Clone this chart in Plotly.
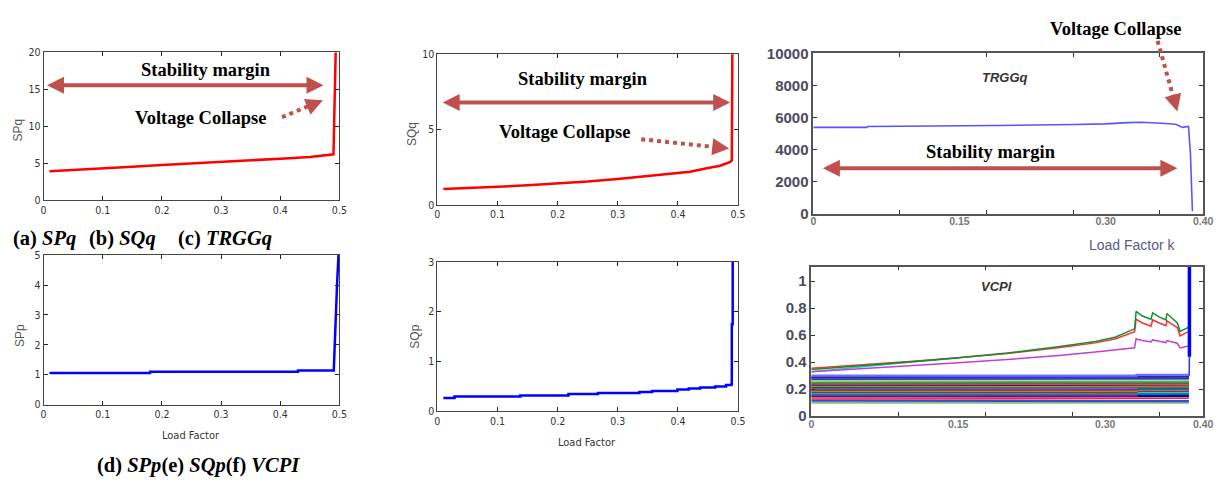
import math
import plotly.graph_objects as go

W, H = 1224, 486

# ---------------- data ----------------
load_ticks = [0, 0.1, 0.2, 0.3, 0.4, 0.5]
load_ticktext = ['0', '0.1', '0.2', '0.3', '0.4', '0.5']
k_label_ticks = [0, 0.15, 0.30, 0.40]
k_label_text = ['0', '0.15', '0.30', '0.40']
k_mark_ticks = [0.0889, 0.1778, 0.2667, 0.3556]

# (a) SPq
spq_x = [0.01, 0.05, 0.10, 0.15, 0.20, 0.25, 0.30, 0.35, 0.40, 0.45, 0.488, 0.490, 0.494]
spq_y = [3.9, 4.1, 4.3, 4.5, 4.75, 4.95, 5.15, 5.4, 5.6, 5.85, 6.1, 6.2, 21.0]

# (b) SQq
sqq_x = [0.01, 0.05, 0.10, 0.15, 0.20, 0.25, 0.30, 0.35, 0.40, 0.42, 0.45, 0.47, 0.487, 0.4895, 0.4905]
sqq_y = [1.05, 1.1, 1.2, 1.3, 1.42, 1.55, 1.72, 1.9, 2.1, 2.2, 2.45, 2.6, 2.85, 2.95, 11.0]

# (c) TRGGq
trg_x = [0, 0.055, 0.056, 0.187, 0.188, 0.268, 0.300, 0.323, 0.336, 0.357, 0.372, 0.379, 0.385, 0.387, 0.389]
trg_y = [5380, 5380, 5440, 5460, 5500, 5560, 5600, 5680, 5700, 5640, 5580, 5380, 5440, 3740, 140]

# (d) SPp
spp_x = [0.01, 0.18, 0.18, 0.43, 0.43, 0.4905, 0.496, 0.499]
spp_y = [1.06, 1.06, 1.10, 1.10, 1.14, 1.14, 4.0, 5.2]

# (e) SQp (stair steps)
sqp_x = [0.01, 0.0285, 0.138, 0.218, 0.267, 0.336, 0.357, 0.399, 0.418, 0.437, 0.462, 0.480, 0.489, 0.4895, 0.491]
sqp_y = [0.27, 0.30, 0.32, 0.35, 0.37, 0.39, 0.41, 0.44, 0.46, 0.48, 0.50, 0.53, 0.55, 1.75, 3.2]

# (f) VCPI – rising bus curves
vc_x = [0, 0.05, 0.10, 0.15, 0.20, 0.25, 0.29, 0.31, 0.330, 0.3316, 0.338, 0.3468, 0.3485,
        0.355, 0.362, 0.363, 0.368, 0.3737, 0.3764, 0.3855]
vc_green = [0.346, 0.372, 0.402, 0.433, 0.468, 0.512, 0.553, 0.585, 0.647, 0.776, 0.742, 0.718, 0.765,
            0.735, 0.713, 0.760, 0.728, 0.690, 0.628, 0.659]
vc_red = [0.355, 0.378, 0.405, 0.433, 0.465, 0.505, 0.543, 0.572, 0.625, 0.718, 0.690, 0.666, 0.713,
          0.690, 0.670, 0.706, 0.682, 0.655, 0.595, 0.628]
vc_mag = [0.330, 0.350, 0.372, 0.395, 0.420, 0.447, 0.475, 0.488, 0.506, 0.572, 0.560, 0.550, 0.565,
          0.555, 0.545, 0.560, 0.550, 0.540, 0.505, 0.520]
vc_cyan_x = [0, 0.05, 0.10, 0.15]
vc_cyan = [0.330, 0.366, 0.399, 0.431]
# flat bus curves (start level, level after x=0.332)
flat_start = [0.100, 0.115, 0.130, 0.140, 0.148, 0.155, 0.162, 0.170, 0.176, 0.182, 0.188, 0.194,
              0.200, 0.206, 0.212, 0.218, 0.224, 0.230, 0.236, 0.242, 0.248, 0.254, 0.260, 0.266,
              0.272, 0.278, 0.284, 0.292, 0.300]
flat_end = [0.100, 0.112, 0.135, 0.145, 0.150, 0.170, 0.165, 0.178, 0.180, 0.190, 0.195, 0.200,
            0.205, 0.212, 0.218, 0.222, 0.228, 0.235, 0.240, 0.246, 0.252, 0.258, 0.264, 0.270,
            0.276, 0.282, 0.288, 0.296, 0.306]
flat_colors = ['#7fbf7f', '#3050d0', '#ff2020', '#ff8080', '#0000cc', '#c000c0', '#008080', '#20a020',
               '#40c0e0', '#800080', '#9a9a00', '#e02050', '#008060', '#2040ff', '#d040d0', '#006000',
               '#c8c820', '#000080', '#ff4040', '#7040a0', '#808000', '#30a030', '#20c0c0', '#e0e040',
               '#a0a0a0', '#202080', '#4040ff', '#203090', '#7070ff']
flat_x = [0, 0.332, 0.332, 0.3855]
spike_x = [0.3858, 0.386]
spike_thin_y = [0.30, 0.44]
spike_thick_y = [0.44, 1.25]

# ---------------- layout helpers ----------------
boxes = {  # left, top, right, bottom in px
    'a': (41, 45, 340, 198),
    'b': (439, 47, 743, 203),
    'c': (819, 46, 1213, 212),
    'd': (41, 255, 340, 410),
    'e': (439, 262, 743, 417),
    'f': (817, 267, 1213, 422),
}


def px(x):
    return x / W


def py(y):
    return 1 - y / H


def dom(key):
    l, t, r, b = boxes[key]
    return [px(l), px(r)], [py(b), py(t)]


NARROW = 'DejaVu Sans Condensed, Liberation Sans Narrow, Arial Narrow, sans-serif'
SERIF = 'Liberation Serif, Times New Roman, serif'
SANS = 'Liberation Sans, Arial, sans-serif'
ARROW = '#c0504d'

fig = go.Figure()


def line(x, y, xa, ya, color, width, shape='linear'):
    fig.add_trace(go.Scatter(x=x, y=y, xaxis=xa, yaxis=ya, mode='lines',
                             line=dict(color=color, width=width, shape=shape),
                             hoverinfo='skip', showlegend=False))


line(spq_x, spq_y, 'x', 'y', '#ff0000', 2.5)
line(sqq_x, sqq_y, 'x2', 'y2', '#ff0000', 2.5)
line(trg_x, trg_y, 'x3', 'y3', '#5555ff', 1.6)
line(spp_x, spp_y, 'x4', 'y4', '#0000ff', 2.5)
line(sqp_x, sqp_y, 'x5', 'y5', '#0000ff', 2.5, shape='hv')
for ys, ye, c in zip(flat_start, flat_end, flat_colors):
    line(flat_x, [ys, ys, ye, ye], 'x6', 'y6', c, 2.2)
line(vc_cyan_x, vc_cyan, 'x6', 'y6', '#30c8c8', 1.5)
line(vc_x, vc_mag, 'x6', 'y6', '#c040d0', 1.5)
line(vc_x, vc_red, 'x6', 'y6', '#ff3030', 1.5)
line(vc_x, vc_green, 'x6', 'y6', '#109030', 1.5)
line(spike_x, spike_thin_y, 'x6', 'y6', '#3030ff', 1.5)
line([spike_x[1], spike_x[1]], spike_thick_y, 'x6', 'y6', '#0000ff', 3.5)
# empty traces to host the label-only overlay axes
fig.add_trace(go.Scatter(x=[], y=[], xaxis='x7', yaxis='y3', showlegend=False))
fig.add_trace(go.Scatter(x=[], y=[], xaxis='x8', yaxis='y6', showlegend=False))

layout = dict(width=W, height=H, margin=dict(l=0, r=0, t=0, b=0),
              paper_bgcolor='white', plot_bgcolor='white', showlegend=False)


def matlab_axes(key, xname, yname, yr, yt):
    xd, yd = dom(key)
    common = dict(showline=True, linecolor='#444', linewidth=1, mirror='ticks', ticks='inside',
                  ticklen=4, tickcolor='#222', showgrid=False, zeroline=False,
                  tickfont=dict(family=NARROW, size=10.5, color='#333'))
    layout['xaxis' + xname] = dict(domain=xd, range=[0, 0.5], anchor='y' + yname,
                                   tickvals=load_ticks, ticktext=load_ticktext, **common)
    layout['yaxis' + yname] = dict(domain=yd, range=yr, anchor='x' + xname,
                                   tickvals=yt, ticktext=[str(v) for v in yt], **common)


matlab_axes('a', '', '', [0, 20], [0, 5, 10, 15, 20])
matlab_axes('b', '2', '2', [0, 10], [0, 5, 10])
matlab_axes('d', '4', '4', [0, 5], [0, 1, 2, 3, 4, 5])
matlab_axes('e', '5', '5', [0, 3], [0, 1, 2, 3])


def excel_axes(key, xname, yname, oname, yr, yt, ytt):
    xd, yd = dom(key)
    common = dict(showline=True, linecolor='#555', linewidth=1.5, mirror='ticks', ticks='inside',
                  ticklen=4, tickcolor='#333', showgrid=False, zeroline=False)
    layout['xaxis' + xname] = dict(domain=xd, range=[0, 0.40], anchor='y' + yname,
                                   tickvals=k_mark_ticks, showticklabels=False, **common)
    layout['yaxis' + yname] = dict(domain=yd, range=yr, anchor='x' + xname, tickvals=yt, ticktext=ytt,
                                   tickfont=dict(family=SANS, size=15, color='#4b4b5e', weight='bold'),
                                   **common)
    layout['xaxis' + oname] = dict(overlaying='x' + xname, anchor='y' + yname, range=[0, 0.40],
                                   tickvals=k_label_ticks, ticktext=k_label_text, ticks='',
                                   showline=False, showgrid=False, zeroline=False, side='bottom',
                                   tickfont=dict(family=SANS, size=10.5, color='#777', weight='bold'))


excel_axes('c', '3', '3', '7', [0, 10000], [0, 2000, 4000, 6000, 8000, 10000],
           ['0', '2000', '4000', '6000', '8000', '10000'])
excel_axes('f', '6', '6', '8', [0, 1.107], [0, 0.2, 0.4, 0.6, 0.8, 1.0],
           ['0', '0.2', '0.4', '0.6', '0.8', '1'])

annotations = []
shapes = []


def text(x, y, s, size, family, color='black', xanchor='center', angle=0):
    annotations.append(dict(x=px(x), y=py(y), xref='paper', yref='paper', text=s, showarrow=False,
                            xanchor=xanchor, yanchor='middle', textangle=angle,
                            font=dict(family=family, size=size, color=color)))


def double_arrow(x0, x1, y):
    annotations.append(dict(x=px(x1), y=py(y), xref='paper', yref='paper', ax=x0 - x1, ay=0,
                            axref='pixel', ayref='pixel', text='', showarrow=True,
                            arrowside='end+start', arrowhead=2, startarrowhead=2, arrowwidth=4,
                            arrowsize=0.85, startarrowsize=0.85, arrowcolor=ARROW,
                            standoff=3, startstandoff=3))


def dotted_arrow(x0, y0, x1, y1):
    dx, dy = x1 - x0, y1 - y0
    L = math.hypot(dx, dy)
    ux, uy = dx / L, dy / L
    head = 16
    bx, by = x1 - ux * head, y1 - uy * head
    shapes.append(dict(type='line', xref='paper', yref='paper', x0=px(x0), y0=py(y0),
                       x1=px(bx), y1=py(by), line=dict(color=ARROW, width=4, dash='dot')))
    ex, ey = x1 - ux * 4, y1 - uy * 4
    annotations.append(dict(x=px(ex), y=py(ey), xref='paper', yref='paper',
                            ax=bx - ex, ay=by - ey, axref='pixel', ayref='pixel', text='',
                            showarrow=True, arrowhead=2, arrowwidth=4, arrowsize=0.85,
                            arrowcolor=ARROW))


# panel (a)
text(205, 63, '<b>Stability margin</b>', 18.5, SERIF)
text(200, 113, '<b>Voltage Collapse</b>', 18.5, SERIF)
double_arrow(43, 327, 79)
dotted_arrow(282, 112, 327, 93)
# panel (b)
text(586, 73, '<b>Stability margin</b>', 18.5, SERIF)
text(568, 127, '<b>Voltage Collapse</b>', 18.5, SERIF)
double_arrow(443, 738, 97)
dotted_arrow(645, 135, 738, 145)
# panel (c)
text(999, 148, '<b>Stability margin</b>', 18.5, SERIF)
text(1124, 21, '<b>Voltage Collapse</b>', 18.5, SERIF)
double_arrow(828, 1190, 165)
dotted_arrow(1167, 33, 1188, 110)
text(1013, 71, '<b><i>TRGGq</i></b>', 13, SANS, '#333')
text(1142, 245, 'Load Factor k', 14, SANS, '#5a5a80')
# panel (f)
text(1004, 288, '<b><i>VCPI</i></b>', 13, SANS, '#333')

# y-axis titles of the MATLAB panels
text(15, 125, 'SPq', 12, SANS, '#555', angle=-90)
text(414, 130, 'SQq', 12, SANS, '#555', angle=-90)
text(17, 338, 'SPp', 12, SANS, '#555', angle=-90)
text(417, 340, 'SQp', 12, SANS, '#555', angle=-90)
text(190, 442, 'Load Factor', 11, NARROW, '#333')
text(590, 449, 'Load Factor', 11, NARROW, '#333')

# captions
text(8, 238, '<b>(a) <i>SPq</i></b>', 20.5, SERIF, xanchor='left')
text(85, 238, '<b>(b) <i>SQq</i></b>', 20.5, SERIF, xanchor='left')
text(175, 238, '<b>(c) <i>TRGGq</i></b>', 20.5, SERIF, xanchor='left')
text(93, 473, '<b>(d) <i>SPp</i>(e) <i>SQp</i>(f) <i>VCPI</i></b>', 20.5, SERIF, xanchor='left')

layout['annotations'] = annotations
layout['shapes'] = shapes
fig.update_layout(**layout)
fig.write_html('out.html')
